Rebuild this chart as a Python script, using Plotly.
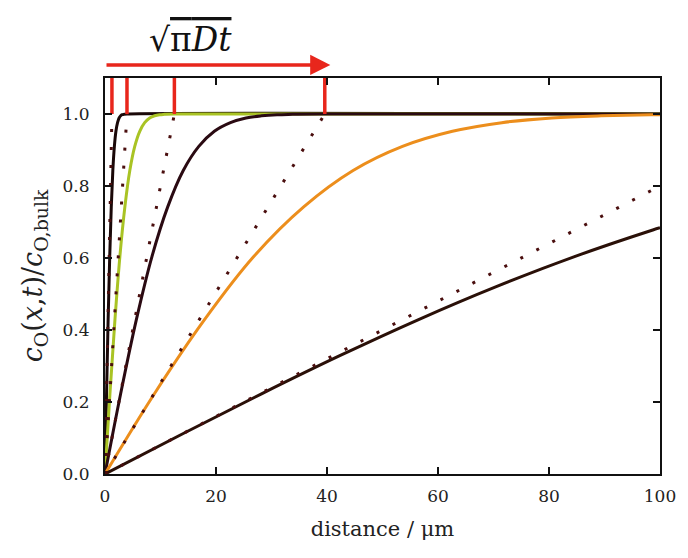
import plotly.graph_objects as go

# sqrt(pi*D*t) values (um)
sqrt_pi_Dt = [1.25, 3.96, 12.5, 39.6]

# concentration profiles
c1_x = [0, 0.28, 0.56, 0.85, 1.13, 1.41, 1.69, 1.97, 2.26, 2.54, 2.82, 3.10, 3.38, 3.95, 100]
c1_y = [0, 0.223, 0.428, 0.604, 0.742, 0.843, 0.910, 0.952, 0.976, 0.989, 0.995, 0.998, 0.999, 1.0, 1.0]

c2_x = [0, 0.89, 1.79, 2.68, 3.58, 4.47, 5.36, 6.26, 7.15, 8.05, 8.94, 9.83, 10.7, 12.5, 100]
c2_y = [0, 0.223, 0.428, 0.604, 0.742, 0.843, 0.910, 0.952, 0.976, 0.989, 0.995, 0.998, 0.999, 1.0, 1.0]

c3_x = [0, 2.82, 5.64, 8.46, 11.3, 14.1, 16.9, 19.7, 22.6, 25.4, 28.2, 31.0, 33.8, 39.5, 100]
c3_y = [0, 0.223, 0.428, 0.604, 0.742, 0.843, 0.910, 0.952, 0.976, 0.989, 0.995, 0.998, 0.999, 1.0, 1.0]

c4_x = [0, 8.9, 17.9, 26.8, 35.8, 44.7, 53.6, 62.6, 71.5, 80.5, 89.4, 98.3, 100]
c4_y = [0, 0.223, 0.428, 0.604, 0.742, 0.843, 0.910, 0.952, 0.976, 0.989, 0.995, 0.998, 0.998]

c5_x = [0, 14.1, 28.2, 42.3, 56.4, 70.5, 84.6, 98.7, 100]
c5_y = [0, 0.1125, 0.2227, 0.3286, 0.4284, 0.5205, 0.6039, 0.6778, 0.684]

# linear (dotted) approximations: end points
lin_x_end = [1.25, 3.96, 12.5, 39.6, 100]
lin_y_end = [1.0, 1.0, 1.0, 1.0, 0.8]

curve_colors = ["#1a0808", "#a9c324", "#2a0a12", "#ec8e1c", "#2a1008"]
curves = [(c1_x, c1_y), (c2_x, c2_y), (c3_x, c3_y), (c4_x, c4_y), (c5_x, c5_y)]

fig = go.Figure()
for (cx, cy), col in zip(curves, curve_colors):
    fig.add_trace(go.Scatter(x=cx, y=cy, mode="lines", line=dict(color=col, width=3, shape="spline"),
                             showlegend=False, hoverinfo="skip", cliponaxis=True))

for xe, ye in zip(lin_x_end, lin_y_end):
    fig.add_trace(go.Scatter(x=[0, xe], y=[0, ye], mode="lines",
                             line=dict(color="#4a0e0e", width=3, dash="3px,15px"),
                             showlegend=False, hoverinfo="skip"))

# red markers at sqrt(pi D t)
mx, my = [], []
for v in sqrt_pi_Dt:
    mx += [v, v, None]
    my += [1.0, 1.1, None]
fig.add_trace(go.Scatter(x=mx, y=my, mode="lines", line=dict(color="#e8261c", width=3.5),
                         showlegend=False, hoverinfo="skip", cliponaxis=False))

serif = "DejaVu Serif"

# arrow above the plot (y in paper units)
fig.add_annotation(x=40.6, y=1.033, ax=0, ay=0, xref="x", yref="paper", axref="x", ayref="pixel",
                   text="", showarrow=True, arrowhead=2, arrowsize=1.15, arrowwidth=3.5,
                   arrowcolor="#e8261c")
fig.add_annotation(x=15.4, y=1.098, xref="x", yref="paper", yanchor="middle", xanchor="center",
                   showarrow=False,
                   text="√<span style='text-decoration:overline'>π<i>Dt</i></span>",
                   font=dict(family=serif, size=33, color="#111"))

fig.update_layout(
    width=688, height=558,
    margin=dict(l=105, r=23, t=78, b=84),
    plot_bgcolor="white", paper_bgcolor="white",
    font=dict(family=serif, color="#222"),
    xaxis=dict(range=[0, 100], tickvals=[0, 20, 40, 60, 80, 100], ticks="inside", ticklen=7,
               tickwidth=1.5, tickcolor="#111", showline=True, linewidth=2, linecolor="#111",
               mirror="ticks", showgrid=False, zeroline=False, ticklabelstandoff=6,
               tickfont=dict(family=serif, size=17, color="#222"),
               title=dict(text="distance / μm", font=dict(family=serif, size=21, color="#222"),
                          standoff=16)),
    yaxis=dict(range=[0, 1.1], tickvals=[0, 0.2, 0.4, 0.6, 0.8, 1.0], tickformat=".1f",
               ticks="inside", ticklen=7, tickwidth=1.5, tickcolor="#111", showline=True,
               linewidth=2, linecolor="#111", mirror="ticks", showgrid=False, zeroline=False,
               ticklabelstandoff=10,
               tickfont=dict(family=serif, size=17, color="#222"),
               title=dict(text="<i>c</i><sub>O</sub>(<i>x</i>,<i>t</i>)/<i>c</i><sub>O,bulk</sub>",
                          font=dict(family=serif, size=27, color="#222"), standoff=12)),
)

fig.write_html("out.html")
